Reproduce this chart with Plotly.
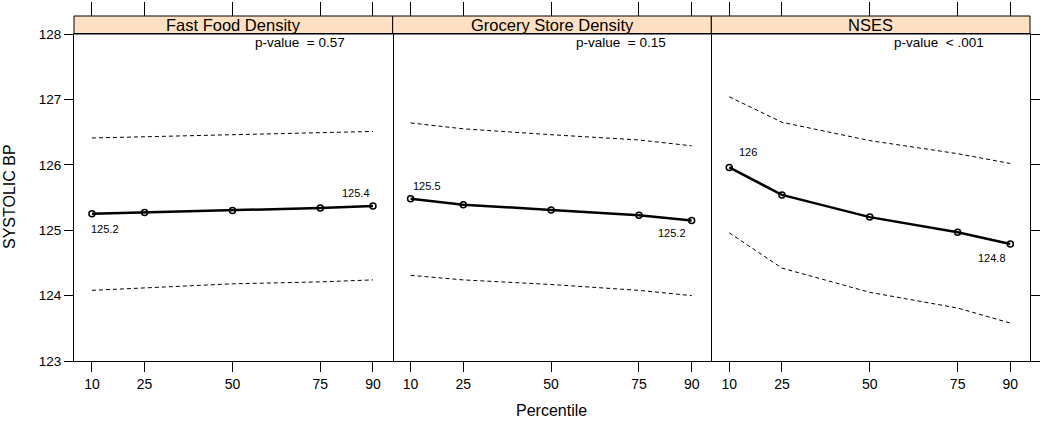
import plotly.graph_objects as go

percentiles = [10, 25, 50, 75, 90]
panels = ["Fast Food Density", "Grocery Store Density", "NSES"]
pvalues = ["p-value  = 0.57", "p-value  = 0.15", "p-value  < .001"]

mean_ff = [125.25, 125.27, 125.30, 125.34, 125.37]
upper_ff = [126.41, 126.43, 126.46, 126.49, 126.51]
lower_ff = [124.08, 124.12, 124.18, 124.21, 124.24]

mean_gs = [125.48, 125.39, 125.31, 125.23, 125.15]
upper_gs = [126.64, 126.55, 126.46, 126.38, 126.29]
lower_gs = [124.31, 124.24, 124.17, 124.08, 124.00]

mean_ns = [125.96, 125.54, 125.20, 124.97, 124.79]
upper_ns = [127.04, 126.65, 126.37, 126.17, 126.02]
lower_ns = [124.96, 124.42, 124.05, 123.81, 123.58]

end_labels = [("125.2", "125.4"), ("125.5", "125.2"), ("126", "124.8")]
label_shifts = [((13, -15), (-17, 13)), ((16, 13), (-20, -13)), ((19, 15), (-18, -14))]

means = [mean_ff, mean_gs, mean_ns]
uppers = [upper_ff, upper_gs, upper_ns]
lowers = [lower_ff, lower_gs, lower_ns]

FONT = "Liberation Sans, Arial, sans-serif"
W, H = 1050, 422
L, R, T, B = 74, 20, 16, 61
plot_w = W - L - R
plot_h = H - T - B
strip_h = 18
ytop = 1 - strip_h / plot_h
xrange = [4.9, 95.6]


def px_x(x):
    return (x - L) / plot_w


def px_y(y):
    return (H - B - y) / plot_h


fig = go.Figure()
annotations = []
shapes = []

for i in range(3):
    sfx = "" if i == 0 else str(i + 1)
    xa, ya = "x" + sfx, "y" + sfx
    for series in (uppers[i], lowers[i]):
        fig.add_trace(go.Scatter(x=percentiles, y=series, mode="lines",
                                 line=dict(color="black", width=1, dash="4px,3px"),
                                 xaxis=xa, yaxis=ya, showlegend=False, hoverinfo="skip"))
    fig.add_trace(go.Scatter(x=percentiles, y=means[i], mode="lines+markers",
                             line=dict(color="black", width=2.5),
                             marker=dict(symbol="circle-open", size=6, color="black",
                                         line=dict(width=1.5, color="black")),
                             xaxis=xa, yaxis=ya, showlegend=False))
    # invisible trace so the top tick axis is drawn
    fig.add_trace(go.Scatter(x=[percentiles[0]], y=[means[i][0]], mode="markers",
                             marker=dict(opacity=0), xaxis="x" + str(i + 4), yaxis=ya,
                             showlegend=False, hoverinfo="skip"))
    d0, d1 = i / 3, (i + 1) / 3
    fig.layout["xaxis" + sfx] = dict(domain=[d0, d1], range=xrange, anchor=ya,
                                     tickvals=percentiles, ticks="outside", ticklen=10,
                                     tickcolor="black", showline=True, mirror=True,
                                     linecolor="black", linewidth=1, showgrid=False,
                                     zeroline=False, automargin=False,
                                     tickfont=dict(family=FONT, size=14, color="black"))
    fig.layout["xaxis" + str(i + 4)] = dict(domain=[d0, d1], range=xrange, overlaying=xa,
                                            anchor="free", position=1, side="top",
                                            tickvals=percentiles, ticks="outside", ticklen=14,
                                            tickcolor="black", showticklabels=False,
                                            showgrid=False, zeroline=False, showline=False,
                                            automargin=False)
    ycfg = dict(domain=[0, ytop], range=[123, 128], anchor=xa, showgrid=False,
                zeroline=False, showline=True, linecolor="black",
                linewidth=1, tickvals=[123, 124, 125, 126, 127, 128], automargin=False)
    if i == 0:
        ycfg.update(mirror=True, ticks="outside", ticklen=9, tickcolor="black",
                    tickfont=dict(family=FONT, size=13.5, color="black"))
    elif i == 2:
        ycfg.update(side="right", mirror=False, ticks="outside", ticklen=9,
                    tickcolor="black", showticklabels=False)
    else:
        ycfg.update(side="right", mirror=False, showticklabels=False, ticks="")
    fig.layout["yaxis" + sfx] = ycfg

    shapes.append(dict(type="rect", xref="paper", yref="paper", x0=d0, x1=d1,
                       y0=ytop, y1=1, fillcolor="#FFE0C2",
                       line=dict(color="black", width=1), layer="below"))
    annotations.append(dict(xref="paper", yref="paper", x=(d0 + d1) / 2,
                            y=(ytop + 1) / 2, text=panels[i], showarrow=False,
                            font=dict(family=FONT, size=16.5, color="black"),
                            xanchor="center", yanchor="middle"))
    pcx = [300, 621, 939][i]
    annotations.append(dict(xref="paper", yref="paper", x=px_x(pcx), y=px_y(42),
                            text=pvalues[i], showarrow=False,
                            font=dict(family=FONT, size=13.5, color="black"),
                            xanchor="center", yanchor="middle"))
    for j, idx in enumerate((0, 4)):
        sx, sy = label_shifts[i][j]
        annotations.append(dict(xref=xa, yref=ya, x=percentiles[idx], y=means[i][idx],
                                text=end_labels[i][j], showarrow=False,
                                xshift=sx, yshift=sy,
                                font=dict(family=FONT, size=11, color="black")))

annotations.append(dict(xref="paper", yref="paper", x=px_x(10), y=px_y(197),
                        text="SYSTOLIC BP", textangle=-90,
                        showarrow=False, font=dict(family=FONT, size=16, color="black"),
                        xanchor="center", yanchor="middle"))
annotations.append(dict(xref="paper", yref="paper", x=px_x(551), y=px_y(410),
                        text="Percentile",
                        showarrow=False, font=dict(family=FONT, size=16, color="black"),
                        xanchor="center", yanchor="middle"))

fig.update_layout(width=W, height=H, margin=dict(l=L, r=R, t=T, b=B, autoexpand=False),
                  paper_bgcolor="white", plot_bgcolor="white",
                  annotations=annotations, shapes=shapes, showlegend=False)

fig.write_html("out.html", config={"displayModeBar": False},
               post_script="document.body.style.margin='0px';document.body.style.padding='0px';")
